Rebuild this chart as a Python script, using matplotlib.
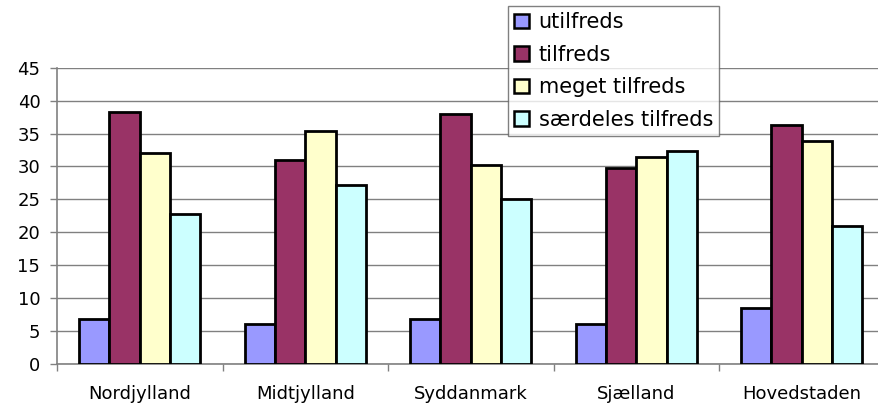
import numpy as np
import matplotlib.pyplot as plt
from matplotlib.patches import Patch

# Data
regions = ['Nordjylland', 'Midtjylland', 'Syddanmark', 'Sjælland', 'Hovedstaden']
series_names = ['utilfreds', 'tilfreds', 'meget tilfreds', 'særdeles tilfreds']
utilfreds = [6.8, 6.0, 6.8, 6.0, 8.5]
tilfreds = [38.2, 31.0, 38.0, 29.8, 36.3]
meget_tilfreds = [32.1, 35.4, 30.2, 31.5, 33.9]
saerdeles_tilfreds = [22.8, 27.2, 25.0, 32.3, 21.0]
colors = ['#9999FF', '#993366', '#FFFFCC', '#CCFFFF']

plt.rcParams['font.family'] = 'DejaVu Sans'

fig = plt.figure(figsize=(8.79, 4.11), dpi=100)
ax = fig.add_axes([57 / 879, 47 / 411, 827.5 / 879, 296.3 / 411])

x = np.arange(len(regions))
width = 0.183
all_series = [utilfreds, tilfreds, meget_tilfreds, saerdeles_tilfreds]
for i, (vals, col) in enumerate(zip(all_series, colors)):
    ax.bar(x + (i - 1.5) * width, vals, width, color=col, edgecolor='black',
           linewidth=2, zorder=3)

ax.set_xlim(-0.5, len(regions) - 0.5)
ax.set_ylim(0, 45)
ax.set_yticks(np.arange(0, 46, 5))
ax.yaxis.grid(True, color='#808080', linewidth=1, zorder=0)
ax.set_axisbelow(True)

ax.set_xticks(x)
ax.set_xticklabels(regions, fontsize=13)
ax.set_xticks(np.arange(-0.5, len(regions), 1), minor=True)
ax.tick_params(axis='x', which='major', length=0, pad=15)
ax.tick_params(axis='x', which='minor', length=5, color='#808080', width=1)
ax.tick_params(axis='y', length=5, color='#808080', width=1, labelsize=13, pad=7)

for side in ['top', 'right']:
    ax.spines[side].set_visible(False)
for side in ['left', 'bottom']:
    ax.spines[side].set_color('#808080')
    ax.spines[side].set_linewidth(1.2)

handles = [Patch(facecolor=c, edgecolor='black', linewidth=1.8) for c in colors]
leg = fig.legend(handles, series_names, loc='upper left',
                 bbox_to_anchor=(508 / 879, 1 - 6 / 411), borderaxespad=0,
                 fontsize=15, frameon=True, fancybox=False,
                 handlelength=0.72, handleheight=0.72, handletextpad=0.45,
                 labelspacing=0.6, borderpad=0.3)
leg.get_frame().set_edgecolor('#606060')
leg.get_frame().set_linewidth(1)

fig.savefig('out.png', dpi=100)
